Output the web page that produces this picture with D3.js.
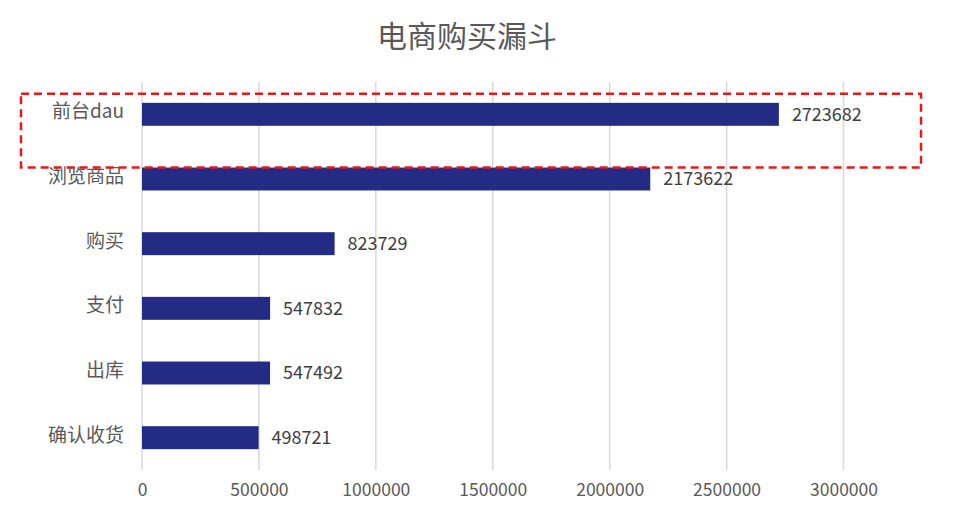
<!DOCTYPE html>
<html>
<head>
<meta charset="utf-8">
<script src="https://cdn.jsdelivr.net/npm/d3@7/dist/d3.min.js"></script>
<style>
  body { margin: 0; background: #fff; }
  text { font-family: "Noto Sans CJK SC", "Noto Sans", sans-serif; }
</style>
</head>
<body>
<svg id="chart"></svg>
<script>
var categories = ["前台dau", "浏览商品", "购买", "支付", "出库", "确认收货"];
var values = [2723682, 2173622, 823729, 547832, 547492, 498721];
var tickValues = [0, 500000, 1000000, 1500000, 2000000, 2500000, 3000000];
var title = "电商购买漏斗";

var width = 954;
var height = 530;

var svg = d3.select("svg#chart")
            .attr("width", width)
            .attr("height", height);

var x = d3.scaleLinear()
          .domain([0, 3000000])
          .range([142, 843.5]);

var y = d3.scaleBand()
          .domain(categories)
          .range([82, 470])
          .paddingInner(0.645)
          .paddingOuter(0.3225);

// gridlines
svg.selectAll("line.grid")
   .data(tickValues)
   .enter()
   .append("line")
   .attr("class", "grid")
   .attr("x1", function(d){ return x(d); })
   .attr("x2", function(d){ return x(d); })
   .attr("y1", 82)
   .attr("y2", 470)
   .attr("stroke", "#d9d9d9")
   .attr("stroke-width", 1.5);

// x axis labels
var xAxis = d3.axisBottom(x)
              .tickValues(tickValues)
              .tickSize(0)
              .tickPadding(0)
              .tickFormat(function(d){ return String(d); });

var gx = svg.append("g")
            .attr("transform", "translate(0,470)")
            .call(xAxis);
gx.select(".domain").remove();
gx.selectAll("text")
  .attr("dy", "1.5em")
  .attr("font-size", 17.5)
  .attr("font-family", "'Noto Sans CJK SC', 'Noto Sans', sans-serif")
  .attr("fill", "#595959");

// category labels
var yAxis = d3.axisLeft(y).tickSize(0).tickPadding(0);
var gy = svg.append("g")
            .attr("transform", "translate(124,-2)")
            .call(yAxis);
gy.select(".domain").remove();
gy.selectAll("text")
  .attr("font-size", 19)
  .attr("font-family", "'Noto Sans CJK SC', 'Noto Sans', sans-serif")
  .attr("fill", "#595959");

// bars
svg.selectAll("rect.bar")
   .data(values)
   .enter()
   .append("rect")
   .attr("class", "bar")
   .attr("x", x(0))
   .attr("y", function(d, i){ return y(categories[i]); })
   .attr("width", function(d){ return x(d) - x(0); })
   .attr("height", y.bandwidth())
   .attr("fill", "#232b85");

// value labels
svg.selectAll("text.value")
   .data(values)
   .enter()
   .append("text")
   .attr("class", "value")
   .text(function(d){ return d; })
   .attr("x", function(d){ return x(d) + 13; })
   .attr("y", function(d, i){ return y(categories[i]) + y.bandwidth() / 2; })
   .attr("dy", "0.35em")
   .attr("font-size", 18)
   .attr("fill", "#404040");

// highlight box around first row
svg.append("rect")
   .attr("x", 21)
   .attr("y", y(categories[0]) - 9)
   .attr("width", 900)
   .attr("height", y(categories[1]) - y(categories[0]) + 9)
   .attr("fill", "none")
   .attr("stroke", "#e31a1c")
   .attr("stroke-width", 2.5)
   .attr("stroke-dasharray", "8,5");

// title
svg.append("text")
   .text(title)
   .attr("x", 467)
   .attr("y", 36)
   .attr("dy", "0.35em")
   .attr("text-anchor", "middle")
   .attr("font-size", 30)
   .attr("fill", "#595959");
</script>
</body>
</html>
